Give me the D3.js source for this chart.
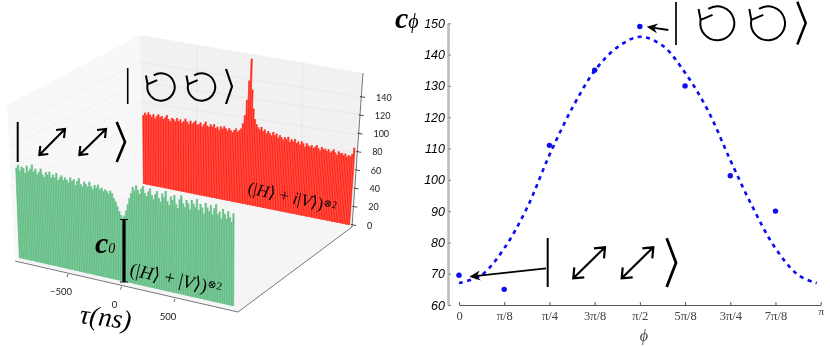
<!DOCTYPE html>
<html>
<head>
<meta charset="utf-8">
<script src="https://cdnjs.cloudflare.com/ajax/libs/d3/7.8.5/d3.min.js"></script>
<style>
    html, body { margin: 0; padding: 0; background: #fff; }
    svg { display: block; }
    text { fill: #000; }
</style>
</head>
<body>
<div class="canvas"></div>
<script>
// ---- left panel data (counts per tau bin, left to right) ----
const redCounts = [
    74,77,75,78,76,74,77,73,76,78, 75,77,74,76,79,75,73,77,76,74,
    78,75,77,74,76,79,76,74,78,75, 77,79,75,76,78,74,77,80,76,75,
    78,76,79,75,77,74,78,76,79,77, 75,78,76,74,77,79,76,78,80,86,
    95,112,133,157,124,104,93,88,85,83, 86,82,84,80,83,81,79,83,80,82,
    78,81,79,77,80,78,81,76,79,77, 80,76,78,75,79,77,74,78,76,75,
    77,74,76,78,75,73,77,75,76,74, 76,73,75,77,74,72,76,74,75,73,
    75,72,74,73,76,83
];
const greenCounts = [
    82,85,80,84,83,79,86,81,84,88, 82,85,80,83,86,81,79,84,82,85,
    80,83,81,85,79,82,84,80,83,81, 79,84,81,83,78,82,85,80,78,83,
    81,79,84,80,78,82,80,83,79,81, 78,80,79,77,80,78,74,71,67,63,
    60,58,60,65,71,77,82,88,85,90, 86,83,88,91,85,82,87,90,84,81,
    86,89,83,80,88,85,91,82,79,87, 84,89,81,78,86,90,83,80,87,84,
    79,88,85,82,90,80,86,83,78,88, 84,81,87,79,85,89,80,83,77,86,
    82,78,85,80,76,84
];
const tauTicks = [-500, 0, 500];
const countTicks = [0, 20, 40, 60, 80, 100, 120, 140];

// ---- right panel data ----
const phiPoints = [0, 1/8, 1/4, 3/8, 1/2, 5/8, 3/4, 7/8];
const cPoints = [69.5, 65, 111, 135, 149, 130, 101.3, 90];
const phiCurve = [0, 1/16, 2/16, 3/16, 4/16, 5/16, 6/16, 7/16, 8/16, 9/16, 10/16, 11/16, 12/16, 13/16, 14/16, 15/16, 0.989];
const cCurve = [67, 69.6, 78.1, 90.9, 107.9, 122.8, 134.8, 142.3, 145.7, 142.9, 134.2, 122.3, 106.3, 91.1, 78.1, 69.6, 67];
const phiTicks = [0, 1/8, 1/4, 3/8, 1/2, 5/8, 3/4, 7/8, 1];
const phiTickLabels = ['0', 'π/8', 'π/4', '3π/8', 'π/2', '5π/8', '3π/4', '7π/8', 'π'];
const cTicks = [60, 70, 80, 90, 100, 110, 120, 130, 140, 150];

const serif = '"Liberation Serif", "DejaVu Serif", serif';

const svg = d3.select('.canvas').append('svg')
    .attr('width', 830)
    .attr('height', 346);

// the source picture is a soft, resampled bitmap
svg.append('defs').append('filter')
    .attr('id', 'soft')
    .attr('x', '-5%').attr('y', '-5%').attr('width', '110%').attr('height', '110%')
    .append('feGaussianBlur')
    .attr('stdDeviation', 0.45);

const left = svg.append('g').attr('filter', 'url(#soft)');
const right = svg.append('g').attr('filter', 'url(#soft)');

// ---- 3d box ----
left.append('polygon').attr('points', '7,105 140,35 143,183 15,260').attr('fill', '#f8f8f8');
left.append('polygon').attr('points', '140,35 363,73 352,227 143,183').attr('fill', '#f1f1f1');
left.append('polygon').attr('points', '15,260 143,183 352,227 238,312').attr('fill', '#f5f5f5');

// grid lines on the walls
const backGrid = left.append('g').attr('stroke', '#e6e6e6').attr('stroke-width', 0.8);
[[141, 62, 362, 97], [141, 82, 361, 115], [142, 102, 360, 135], [142, 122, 359, 153]].forEach(d => {
    backGrid.append('line').attr('x1', d[0]).attr('y1', d[1]).attr('x2', d[2]).attr('y2', d[3]);
});
[[197, 46, 197, 195], [303, 63, 300, 216]].forEach(d => {
    backGrid.append('line').attr('x1', d[0]).attr('y1', d[1]).attr('x2', d[2]).attr('y2', d[3]);
});
const sideGrid = left.append('g').attr('stroke', '#efefef').attr('stroke-width', 0.8);
[[8, 127, 141, 62], [9, 147, 141, 82], [10, 167, 142, 102], [11, 187, 142, 122], [12, 207, 142, 142], [13, 230, 143, 162]].forEach(d => {
    sideGrid.append('line').attr('x1', d[0]).attr('y1', d[1]).attr('x2', d[2]).attr('y2', d[3]);
});

// bars stand on a skewed base line and fan out a little, that gives the moire
function drawBars(counts, opts) {
    const tau = d3.range(counts.length).map(i => opts.tauStart + i * 16);
    const xBase = d3.scaleLinear().domain(opts.tauDomain).range(opts.xRange);
    const yBase = d3.scaleLinear().domain(opts.tauDomain).range(opts.yRange);
    const lean = d3.scaleLinear().domain(opts.tauDomain).range(opts.lean);
    const height = d3.scaleLinear().domain([0, 100]).range([0, opts.pxPer100]);

    // wide pale bar underneath, narrow saturated one on top
    [[opts.pale, opts.width + 1], [opts.color, opts.width]].forEach(s => {
        left.append('g')
            .attr('stroke', s[0])
            .attr('stroke-width', s[1])
            .selectAll('line')
            .data(counts)
            .join('line')
            .attr('x1', (d, i) => xBase(tau[i]))
            .attr('y1', (d, i) => yBase(tau[i]))
            .attr('x2', (d, i) => xBase(tau[i]) + lean(tau[i]) * height(d))
            .attr('y2', (d, i) => yBase(tau[i]) - height(d));
    });
}

drawBars(redCounts, {
    tauStart: -1000, tauDomain: [-1000, 1000],
    xRange: [144, 349], yRange: [184, 225],
    lean: [-0.01, 0.07], pxPer100: 93,
    color: '#ff2a1e', pale: '#ff6d63', width: 1.25
});

// ---- ket labels ----
function ketBar(g, x, y1, y2, w) {
    g.append('line').attr('x1', x).attr('x2', x).attr('y1', y1).attr('y2', y2)
        .attr('stroke', '#000').attr('stroke-width', w);
}
function ketEnd(g, x, tip, y1, y2, w) {
    g.append('path').attr('d', `M${x},${y1}L${tip},${(y1 + y2) / 2}L${x},${y2}`)
        .attr('fill', 'none').attr('stroke', '#000').attr('stroke-width', w);
}
function circleArrow(g, cx, cy, r, w) {
    const a0 = -122 * Math.PI / 180;
    const a1 = 190 * Math.PI / 180;
    const arc = d3.path();
    arc.arc(0, 0, r, a0, a1);
    const c = g.append('g').attr('transform', `translate(${cx},${cy})`)
        .attr('fill', 'none').attr('stroke', '#000').attr('stroke-width', w);
    c.append('path').attr('d', arc.toString());
    c.append('path').attr('d', `M${-1.1 * r},${-0.84 * r}L${-0.98 * r},${-0.2 * r}L${-0.28 * r},${-0.5 * r}`);
}
function doubleArrow(g, x1, y1, x2, y2, w, head) {
    g.append('path')
        .attr('d', `M${x1},${y1}L${x2},${y2}` +
            `M${x2 - head},${y2 + 1}L${x2},${y2}L${x2 - 1},${y2 + head}` +
            `M${x1 + head},${y1 - 1}L${x1},${y1}L${x1 + 1},${y1 - head}`)
        .attr('fill', 'none').attr('stroke', '#000').attr('stroke-width', w);
}

// circular ket, back wall
ketBar(left, 127.7, 68, 104, 1.6);
circleArrow(left, 161, 87, 13.7, 2);
circleArrow(left, 201.5, 87, 13.7, 2);
ketEnd(left, 226, 232, 69, 104, 2.2);

// diagonal ket, side wall
ketBar(left, 17.7, 122, 162, 2);
doubleArrow(left, 39.3, 155, 65, 129, 2.1, 9);
doubleArrow(left, 79.3, 155, 106, 129, 2.1, 9);
ketEnd(left, 116.7, 125, 122, 162, 2.6);

drawBars(greenCounts, {
    tauStart: -960, tauDomain: [-960, 1040],
    xRange: [20, 233], yRange: [258, 306],
    lean: [-0.04, 0.005], pxPer100: 110,
    color: '#66be87', pale: '#8fd0a8', width: 1.3
});

// ---- axes of the 3d box ----
const axisLines = left.append('g').attr('stroke', '#777').attr('stroke-width', 1).attr('fill', 'none');
axisLines.append('path').attr('d', 'M15,261L238,312L352,227L363,73');

// z axis
const zY = d3.scaleLinear().domain([0, 140]).range([225, 97]);
const zX = d3.scaleLinear().domain([0, 140]).range([353, 362]);
const zTick = left.append('g').selectAll('g').data(countTicks).join('g')
    .attr('transform', d => `translate(${zX(d)},${zY(d)})`);
zTick.append('line').attr('x1', -2).attr('x2', 3).attr('y1', -0.5).attr('y2', 0.5)
    .attr('stroke', '#333').attr('stroke-width', 0.9);
zTick.append('text').text(d => d)
    .attr('x', 14).attr('y', 3.5)
    .attr('font-family', 'Lato, sans-serif').attr('font-size', 9).style('fill', '#222');

// tau axis
const tauX = d3.scaleLinear().domain([-500, 500]).range([68, 175]);
const tauY = d3.scaleLinear().domain([-500, 500]).range([275, 300]);
const tauTick = left.append('g').selectAll('g').data(tauTicks).join('g')
    .attr('transform', d => `translate(${tauX(d)},${tauY(d)})`);
tauTick.append('line').attr('x1', 0).attr('x2', -1).attr('y1', -1).attr('y2', 2)
    .attr('stroke', '#444').attr('stroke-width', 0.8);
tauTick.append('text').text(d => d === -500 ? '−500' : d)
    .attr('x', -7).attr('y', 20)
    .attr('text-anchor', 'middle')
    .attr('font-family', 'Lato, sans-serif').attr('font-size', 9.5).style('fill', '#222');

left.append('text').text('τ(ns)')
    .attr('transform', 'translate(79,323) rotate(7)')
    .attr('font-family', serif).attr('font-style', 'italic').attr('font-size', 27);

// c0 marker
left.append('path').attr('d', 'M124,219V282').attr('stroke', '#000').attr('stroke-width', 3.2);
left.append('path').attr('d', 'M120,219.5H128M120,282H128').attr('stroke', '#000').attr('stroke-width', 0.9);
const c0 = left.append('text').attr('x', 95).attr('y', 253).attr('font-family', serif);
c0.append('tspan').text('c').attr('font-weight', 'bold').attr('font-style', 'italic').attr('font-size', 30);
c0.append('tspan').text('0').attr('font-style', 'italic').attr('font-size', 14);

// state formulas
const hv = left.append('text').attr('transform', 'translate(129,275) rotate(12.5)').attr('font-family', serif).attr('font-size', 18.5);
hv.append('tspan').text('(|');
hv.append('tspan').text('H').attr('font-style', 'italic');
hv.append('tspan').text('⟩ + |');
hv.append('tspan').text('V').attr('font-style', 'italic');
hv.append('tspan').text('⟩)');
hv.append('tspan').text('⊗2').attr('font-size', 11).attr('dy', -5);

const hiv = left.append('text').attr('transform', 'translate(247,193) rotate(12.5)').attr('font-family', serif).attr('font-size', 17);
hiv.append('tspan').text('(|');
hiv.append('tspan').text('H').attr('font-style', 'italic');
hiv.append('tspan').text('⟩ + ');
hiv.append('tspan').text('i').attr('font-style', 'italic');
hiv.append('tspan').text('|');
hiv.append('tspan').text('V').attr('font-style', 'italic');
hiv.append('tspan').text('⟩)');
hiv.append('tspan').text('⊗2').attr('font-size', 10).attr('dy', -4);

// ---- right panel: phi scan ----
const x = d3.scaleLinear().domain([0, 1]).range([459, 820.7]);
const y = d3.scaleLinear().domain([60, 150]).range([305, 23.3]);

const yAxis = right.append('g')
    .attr('transform', 'translate(448,0)')
    .call(d3.axisLeft(y).tickValues(cTicks).tickSize(-3).tickSizeOuter(0).tickPadding(3));
yAxis.select('.domain').attr('stroke', '#bdbdbd').attr('stroke-width', 2.6);
yAxis.selectAll('.tick line').attr('stroke', '#888');
yAxis.selectAll('text')
    .attr('font-family', '"Liberation Sans", sans-serif')
    .attr('font-style', 'italic')
    .attr('font-size', 12.5);

const xAxis = right.append('g')
    .attr('transform', 'translate(0,305)')
    .call(d3.axisBottom(x).tickValues(phiTicks).tickSize(-3).tickSizeOuter(0).tickPadding(6)
        .tickFormat((d, i) => phiTickLabels[i]));
xAxis.select('.domain').attr('stroke', '#555').attr('stroke-width', 1);
xAxis.selectAll('.tick line').attr('stroke', '#555');
xAxis.selectAll('text')
    .attr('font-family', serif)
    .attr('font-size', 12.5)
    .style('fill', '#444');
xAxis.selectAll('.tick:last-child text').attr('dy', '0.35em').attr('font-size', 11);

right.append('text').text('ϕ')
    .attr('x', 644).attr('y', 341).attr('text-anchor', 'middle')
    .attr('font-family', serif).attr('font-style', 'italic').attr('font-size', 16)
    .style('fill', '#444');

const cPhi = right.append('text').attr('x', 395).attr('y', 28).attr('font-family', serif);
cPhi.append('tspan').text('c').attr('font-weight', 'bold').attr('font-style', 'italic').attr('font-size', 30);
cPhi.append('tspan').text('ϕ').attr('font-style', 'italic').attr('font-size', 20);

const line = d3.line()
    .x((d, i) => x(d))
    .y((d, i) => y(cCurve[i]))
    .curve(d3.curveCatmullRom);

right.append('path')
    .attr('d', line(phiCurve))
    .attr('fill', 'none')
    .attr('stroke', '#0808f0')
    .attr('stroke-width', 2.6)
    .attr('stroke-dasharray', '4 4.5');

right.append('g').selectAll('circle')
    .data(phiPoints)
    .join('circle')
    .attr('cx', d => x(d))
    .attr('cy', (d, i) => y(cPoints[i]))
    .attr('r', 2.7)
    .attr('fill', '#0808f0');

// pointers from the kets to the points
function pointer(g, x1, y1, x2, y2, w) {
    const ang = Math.atan2(y2 - y1, x2 - x1);
    const ux = Math.cos(ang), uy = Math.sin(ang);
    const px = x2 - ux * 11, py = y2 - uy * 11;
    const nx = x2 - ux * 7.5, ny = y2 - uy * 7.5;
    g.append('line').attr('x1', x1).attr('y1', y1).attr('x2', nx).attr('y2', ny)
        .attr('stroke', '#000').attr('stroke-width', w);
    g.append('path')
        .attr('d', `M${x2},${y2}L${px - uy * 5},${py + ux * 5}L${nx},${ny}L${px + uy * 5},${py - ux * 5}Z`)
        .attr('fill', '#000');
}
pointer(right, 546, 268.3, 469.3, 276.7, 1.8);
pointer(right, 668.3, 30, 646.7, 26.7, 1.8);

// circular ket, top
ketBar(right, 676, 2, 45, 1.7);
circleArrow(right, 717.3, 23.3, 17, 2);
circleArrow(right, 768, 23.3, 17, 2);
ketEnd(right, 797.3, 805.7, 1.7, 44.5, 2.5);

// diagonal ket, bottom
ketBar(right, 547.7, 238, 287, 2);
doubleArrow(right, 573.3, 278.3, 605, 247.3, 2.2, 11);
doubleArrow(right, 621.7, 278.3, 653.3, 247.3, 2.2, 11);
ketEnd(right, 666.7, 676, 238.3, 287, 2.8);
</script>
</body>
</html>
